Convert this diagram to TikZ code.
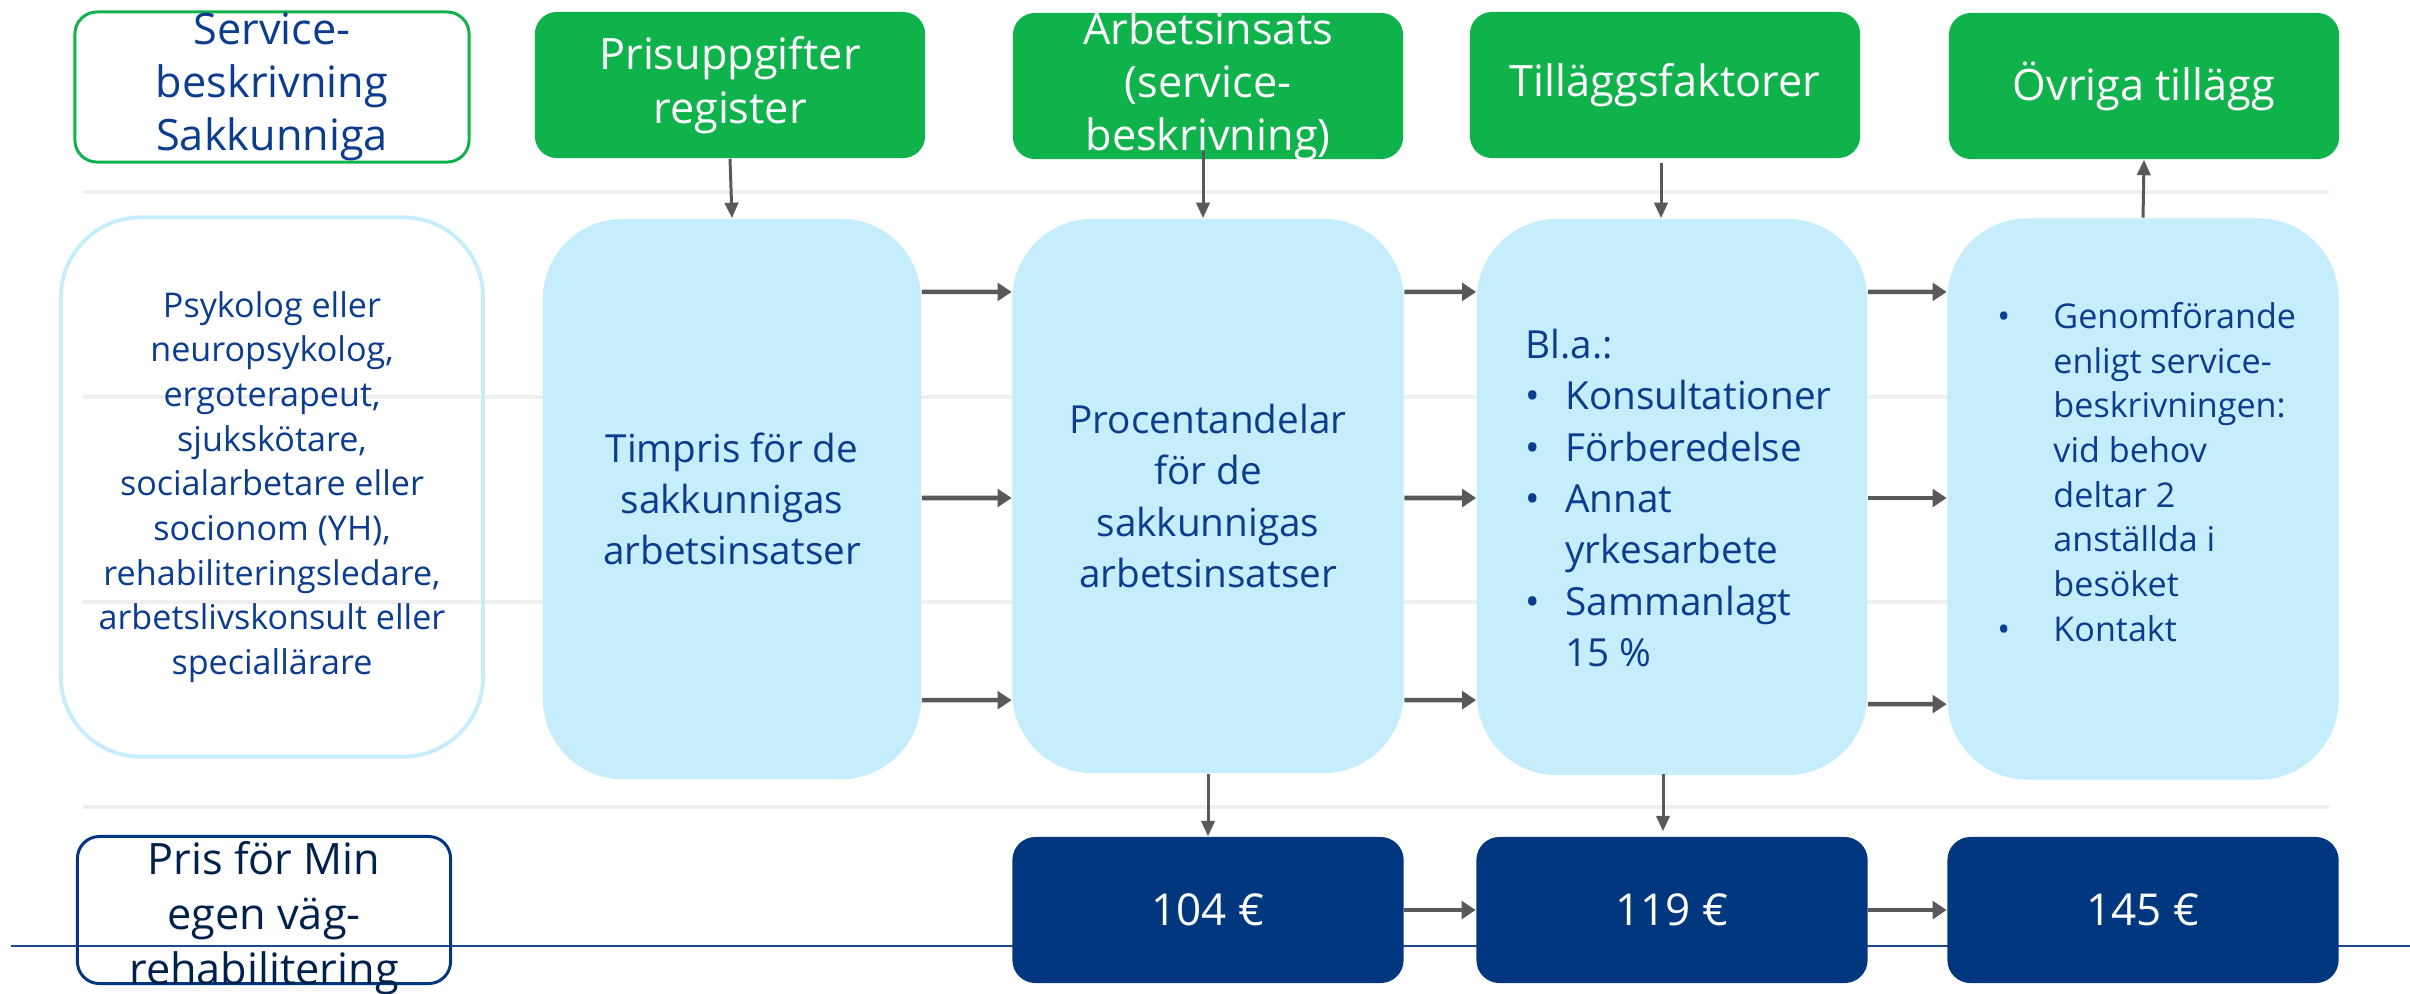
\documentclass[tikz,border=0pt]{standalone}
\usepackage{fontspec}
\setmainfont{Open Sans}
\usepackage{tikz}
\usetikzlibrary{arrows.meta}
\definecolor{gron}{HTML}{10B24C}
\definecolor{ljusbla}{HTML}{C5EDFC}
\definecolor{mork}{HTML}{00377F}
\definecolor{textbla}{HTML}{0B3C8E}
\definecolor{pilgra}{HTML}{595959}
\definecolor{linjegra}{HTML}{EFEFEF}
\definecolor{linjebla}{HTML}{1F4A8F}
\tikzstyle{rutaGron} = [rectangle, rounded corners=0.22cm, minimum width=3.9cm, minimum height=1.46cm, inner sep=0pt, fill=gron, text=white, align=center, font=\fontsize{12.3}{15.2}\selectfont]
\tikzstyle{rutaKant} = [rectangle, rounded corners=0.22cm, inner sep=0pt, line width=0.85pt]
\tikzstyle{rutaLjus} = [rectangle, rounded corners=0.8cm, minimum width=3.9cm, minimum height=5.55cm, inner sep=0pt, fill=ljusbla, text=textbla, align=center, font=\fontsize{11}{14.6}\selectfont]
\tikzstyle{rutaMork} = [rectangle, rounded corners=0.23cm, minimum width=3.91cm, minimum height=1.46cm, inner sep=0pt, fill=mork, text=white, font=\fontsize{12.5}{15}\selectfont]
\tikzstyle{pilNed} = [-{Triangle[length=4.4pt, width=3.8pt]}, draw=pilgra, line width=0.85pt]
\tikzstyle{pilHog} = [-{Triangle[length=4pt, width=5pt]}, draw=pilgra, line width=1.3pt]
\newcommand{\bul}[1]{\makebox[#1][l]{\textbullet}}

\begin{document}
\begin{tikzpicture}[x=0.01cm, y=-0.01cm]
    \useasboundingbox (0,0) rectangle (2410,993);
    % bakgrundslinjer
    \draw[linjegra, line width=1pt] (83,192) -- (2329,192);
    \draw[linjegra, line width=1pt] (83,397) -- (2329,397);
    \draw[linjegra, line width=1pt] (83,602) -- (2329,602);
    \draw[linjegra, line width=1pt] (83,807) -- (2329,807);
    \draw[linjebla, line width=0.75pt] (11,946) -- (2410,946);

    % rad 1
    \node (Service) [rutaKant, draw=gron, minimum width=3.94cm, minimum height=1.5cm] at (272,87) {};
    \node (ServiceText) [text=textbla, align=center, font=\fontsize{12.3}{15.1}\selectfont] at (Service) {Service-\\beskrivning\\Sakkunniga};
    \node (Pris) [rutaGron] at (730,85) {Prisuppgifter\\register};
    \node (Arb) [rutaGron] at (1208,86) {};
    \node (ArbText) [text=white, align=center, font=\fontsize{12.3}{15.1}\selectfont] at (Arb) {Arbetsinsats\\(service-\\beskrivning)};
    \node (Till) [rutaGron] at (1665,85) {Tilläggsfaktorer};
    \node (Ovr) [rutaGron] at (2144,86) {Övriga tillägg};

    % rad 2
    \node (Yrken) [rutaKant, rounded corners=0.8cm, draw=ljusbla, line width=1.1pt, minimum width=4.22cm, minimum height=5.39cm, text=textbla, align=center, font=\fontsize{9.7}{12.7}\selectfont] at (272,487) {Psykolog eller\\neuropsykolog,\\ergoterapeut,\\sjukskötare,\\socialarbetare eller\\socionom (YH),\\rehabiliteringsledare,\\arbetslivskonsult eller\\speciallärare};
    \node (Timpris) [rutaLjus, minimum width=3.78cm, minimum height=5.6cm] at (732,499) {Timpris för de\\sakkunnigas\\arbetsinsatser};
    \node (Proc) [rutaLjus, minimum width=3.91cm, minimum height=5.54cm] at (1208,496) {Procentandelar\\för de\\sakkunnigas\\arbetsinsatser};
    \node (Bla) [rutaLjus, minimum height=5.56cm] at (1672,497) {};
    \node (BlaText) [anchor=west, text=textbla, align=left, font=\fontsize{11}{14.6}\selectfont] at (1513,498) {Bl.a.:\\\bul{0.4cm}Konsultationer\\\bul{0.4cm}Förberedelse\\\bul{0.4cm}Annat\\\hspace*{0.4cm}yrkesarbete\\\bul{0.4cm}Sammanlagt\\\hspace*{0.4cm}15 \%};
    \node (Genom) [rutaLjus, minimum width=3.91cm, minimum height=5.61cm] at (2143,499) {};
    \node (GenomText) [anchor=west, text=textbla, align=left, font=\fontsize{9.7}{12.7}\selectfont] at (1985,472) {\bul{0.56cm}Genomförande\\\hspace*{0.56cm}enligt service-\\\hspace*{0.56cm}beskrivningen:\\\hspace*{0.56cm}vid behov\\\hspace*{0.56cm}deltar 2\\\hspace*{0.56cm}anställda i\\\hspace*{0.56cm}besöket\\\bul{0.56cm}Kontakt};

    % rad 3
    \node (Vag) [rutaKant, draw=mork, minimum width=3.73cm, minimum height=1.47cm] at (264,910) {};
    \node (VagText) [text=mork!60!black, align=center, font=\fontsize{12.3}{15.6}\selectfont] at (264,918) {Pris för Min\\egen väg-\\rehabilitering};
    \node (P104) [rutaMork] at (1208,910) {104 €};
    \node (P119) [rutaMork] at (1672,910) {119 €};
    \node (P145) [rutaMork] at (2143,910) {145 €};

    % pilar
    \draw[pilNed] (Pris.south) -- (Timpris.north);
    \draw[pilNed] ([xshift=-0.05cm, yshift=0.09cm]Arb.south) -- ([xshift=-0.05cm]Proc.north);
    \draw[pilNed] ([xshift=-0.04cm, yshift=-0.04cm]Till.south) -- ([xshift=-0.04cm]Till.south |- Bla.north);
    \draw[pilNed] (Genom.north) -- (Ovr.south);
    \draw[pilHog] ([yshift=2.07cm]Timpris.east) -- ([yshift=2.04cm]Proc.west);
    \draw[pilHog] ([yshift=0.01cm]Timpris.east) -- ([yshift=-0.02cm]Proc.west);
    \draw[pilHog] ([yshift=-2.01cm]Timpris.east) -- ([yshift=-2.04cm]Proc.west);
    \draw[pilHog] ([yshift=2.04cm]Proc.east) -- ([yshift=2.05cm]Bla.west);
    \draw[pilHog] ([yshift=-0.02cm]Proc.east) -- ([yshift=-0.01cm]Bla.west);
    \draw[pilHog] ([yshift=-2.04cm]Proc.east) -- ([yshift=-2.03cm]Bla.west);
    \draw[pilHog] ([yshift=2.05cm]Bla.east) -- ([yshift=2.07cm]Genom.west);
    \draw[pilHog] ([yshift=-0.01cm]Bla.east) -- ([yshift=0.01cm]Genom.west);
    \draw[pilHog] ([yshift=-2.07cm]Bla.east) -- ([yshift=-2.05cm]Genom.west);
    \draw[pilNed] (Proc.south) -- (P104.north);
    \draw[pilNed] ([xshift=-0.09cm, yshift=0.02cm]Bla.south) -- ([xshift=-0.09cm, yshift=0.05cm]P119.north);
    \draw[pilHog] (P104.east) -- (P119.west);
    \draw[pilHog] (P119.east) -- (P145.west);
\end{tikzpicture}
\end{document}
